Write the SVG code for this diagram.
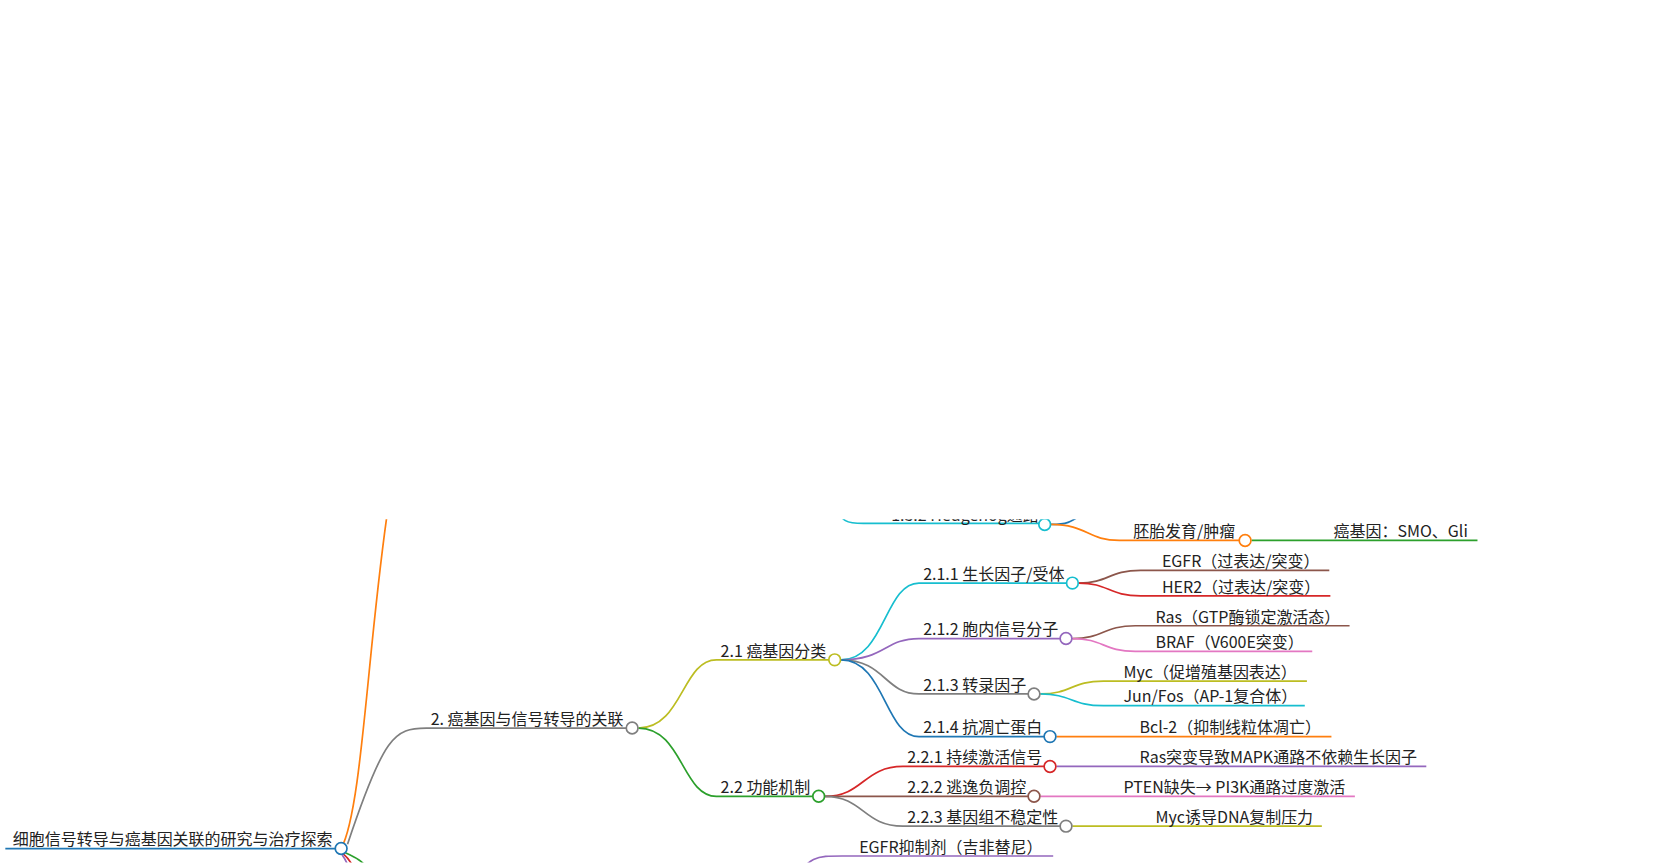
<svg xmlns="http://www.w3.org/2000/svg" width="1667" height="864" viewBox="0 0 1667 864">
<style>
text{font-family:"Noto Sans CJK SC","Noto Sans",sans-serif;font-size:15px;fill:#222}
path{fill:none;stroke-width:1.6}
circle{fill:#fff;stroke-width:1.6}
</style>
<defs><clipPath id="c"><rect x="0" y="487" width="1600" height="322"/></clipPath></defs>
<rect width="1667" height="864" fill="#fff"/>
<g transform="scale(1.066)" clip-path="url(#c)">
<g id="connectors">
<path d="M320 796 C340 760 345 600 365 470" stroke="#ff7f0e"/>
<path d="M326 792 C360 690 370 683 400 683 H593" stroke="#7f7f7f"/>
<path d="M324 800 C335 805 340 808 345 815" stroke="#2ca02c"/>
<path d="M322 801 C328 806 330 810 332 815" stroke="#d62728"/>
<path d="M321 802 C324 806 326 810 327 815" stroke="#9467bd"/>
<path d="M599 683 C640 683 640 619 672 619 H783" stroke="#bcbd22"/>
<path d="M599 683 C640 683 640 747 672 747 H768" stroke="#2ca02c"/>
<path d="M789 619 C830 619 830 547 862 547 H1006" stroke="#17becf"/>
<path d="M789 619 C830 619 830 599 862 599 H1000" stroke="#9467bd"/>
<path d="M789 619 C830 619 830 651 862 651 H970" stroke="#7f7f7f"/>
<path d="M789 619 C830 619 830 691 862 691 H985" stroke="#1f77b4"/>
<path d="M1012 547 C1040 547 1040 535 1070 535 H1247" stroke="#8c564b"/>
<path d="M1012 547 C1040 547 1040 559 1070 559 H1248" stroke="#d62728"/>
<path d="M1006 599 C1035 599 1035 587 1065 587 H1266" stroke="#8c564b"/>
<path d="M1006 599 C1035 599 1035 611 1065 611 H1231" stroke="#e377c2"/>
<path d="M976 651 C1005 651 1005 639 1035 639 H1226" stroke="#bcbd22"/>
<path d="M976 651 C1005 651 1005 662 1035 662 H1224" stroke="#17becf"/>
<path d="M991 691 H1249" stroke="#ff7f0e"/>
<path d="M774 747 C810 747 810 719 847 719 H985" stroke="#d62728"/>
<path d="M774 747 H970" stroke="#8c564b"/>
<path d="M774 747 C810 747 810 775 847 775 H1000" stroke="#7f7f7f"/>
<path d="M991 719 H1338" stroke="#9467bd"/>
<path d="M976 747 H1271" stroke="#e377c2"/>
<path d="M1006 775 H1240" stroke="#bcbd22"/>
<path d="M740 830 C760 803 765 803 790 803 H988" stroke="#9467bd"/>
<path d="M780 470 C790 491 795 491 810 491 H980" stroke="#17becf"/>
<path d="M986 492 C1000 492 1005 490 1015 482" stroke="#1f77b4"/>
<path d="M986 492 C1020 492 1020 507 1050 507 H1168" stroke="#ff7f0e"/>
<path d="M1174 507 H1386" stroke="#2ca02c"/>
<path d="M5 796 H320" stroke="#1f77b4" stroke-width="3.5"/>
</g>
<g id="root"><text x="12" y="793">细胞信号转导与癌基因关联的研究与治疗探索</text><circle cx="320" cy="796" r="5.5" stroke="#1f77b4"/></g>
<g id="n2"><text x="404" y="680">2. 癌基因与信号转导的关联</text><circle cx="593" cy="683" r="5.5" stroke="#7f7f7f"/></g>
<g id="n21"><text x="676" y="616">2.1 癌基因分类</text><circle cx="783" cy="619" r="5.5" stroke="#bcbd22"/></g>
<g id="n22"><text x="676" y="744">2.2 功能机制</text><circle cx="768" cy="747" r="5.5" stroke="#2ca02c"/></g>
<g id="n211"><text x="866" y="544">2.1.1 生长因子/受体</text><circle cx="1006" cy="547" r="5.5" stroke="#17becf"/></g>
<g id="n212"><text x="866" y="596">2.1.2 胞内信号分子</text><circle cx="1000" cy="599" r="5.5" stroke="#9467bd"/></g>
<g id="n213"><text x="866" y="648">2.1.3 转录因子</text><circle cx="970" cy="651" r="5.5" stroke="#7f7f7f"/></g>
<g id="n214"><text x="866" y="688">2.1.4 抗凋亡蛋白</text><circle cx="985" cy="691" r="5.5" stroke="#1f77b4"/></g>
<g id="egfr"><text x="1090" y="532">EGFR（过表达/突变）</text></g>
<g id="her2"><text x="1090" y="556">HER2（过表达/突变）</text></g>
<g id="ras"><text x="1084" y="584">Ras（GTP酶锁定激活态）</text></g>
<g id="braf"><text x="1084" y="608">BRAF（V600E突变）</text></g>
<g id="myc"><text x="1054" y="636">Myc（促增殖基因表达）</text></g>
<g id="jun"><text x="1054" y="659">Jun/Fos（AP-1复合体）</text></g>
<g id="bcl2"><text x="1069" y="688">Bcl-2（抑制线粒体凋亡）</text></g>
<g id="n221"><text x="851" y="716">2.2.1 持续激活信号</text><circle cx="985" cy="719" r="5.5" stroke="#d62728"/></g>
<g id="n222"><text x="851" y="744">2.2.2 逃逸负调控</text><circle cx="970" cy="747" r="5.5" stroke="#8c564b"/></g>
<g id="n223"><text x="851" y="772">2.2.3 基因组不稳定性</text><circle cx="1000" cy="775" r="5.5" stroke="#7f7f7f"/></g>
<g id="rasmut"><text x="1069" y="716">Ras突变导致MAPK通路不依赖生长因子</text></g>
<g id="pten"><text x="1054" y="744">PTEN缺失→ PI3K通路过度激活</text></g>
<g id="mycdna"><text x="1084" y="772">Myc诱导DNA复制压力</text></g>
<g id="egfri"><text x="806" y="800">EGFR抑制剂（吉非替尼）</text></g>
<g id="hh"><text x="836" y="489">1.3.2 Hedgehog通路</text><circle cx="980" cy="492" r="5.5" stroke="#17becf"/></g>
<g id="emb"><text x="1063" y="504">胚胎发育/肿瘤</text><circle cx="1168" cy="507" r="5.5" stroke="#ff7f0e"/></g>
<g id="smo"><text x="1251" y="504">癌基因：SMO、Gli</text></g>
</g>
</svg>
